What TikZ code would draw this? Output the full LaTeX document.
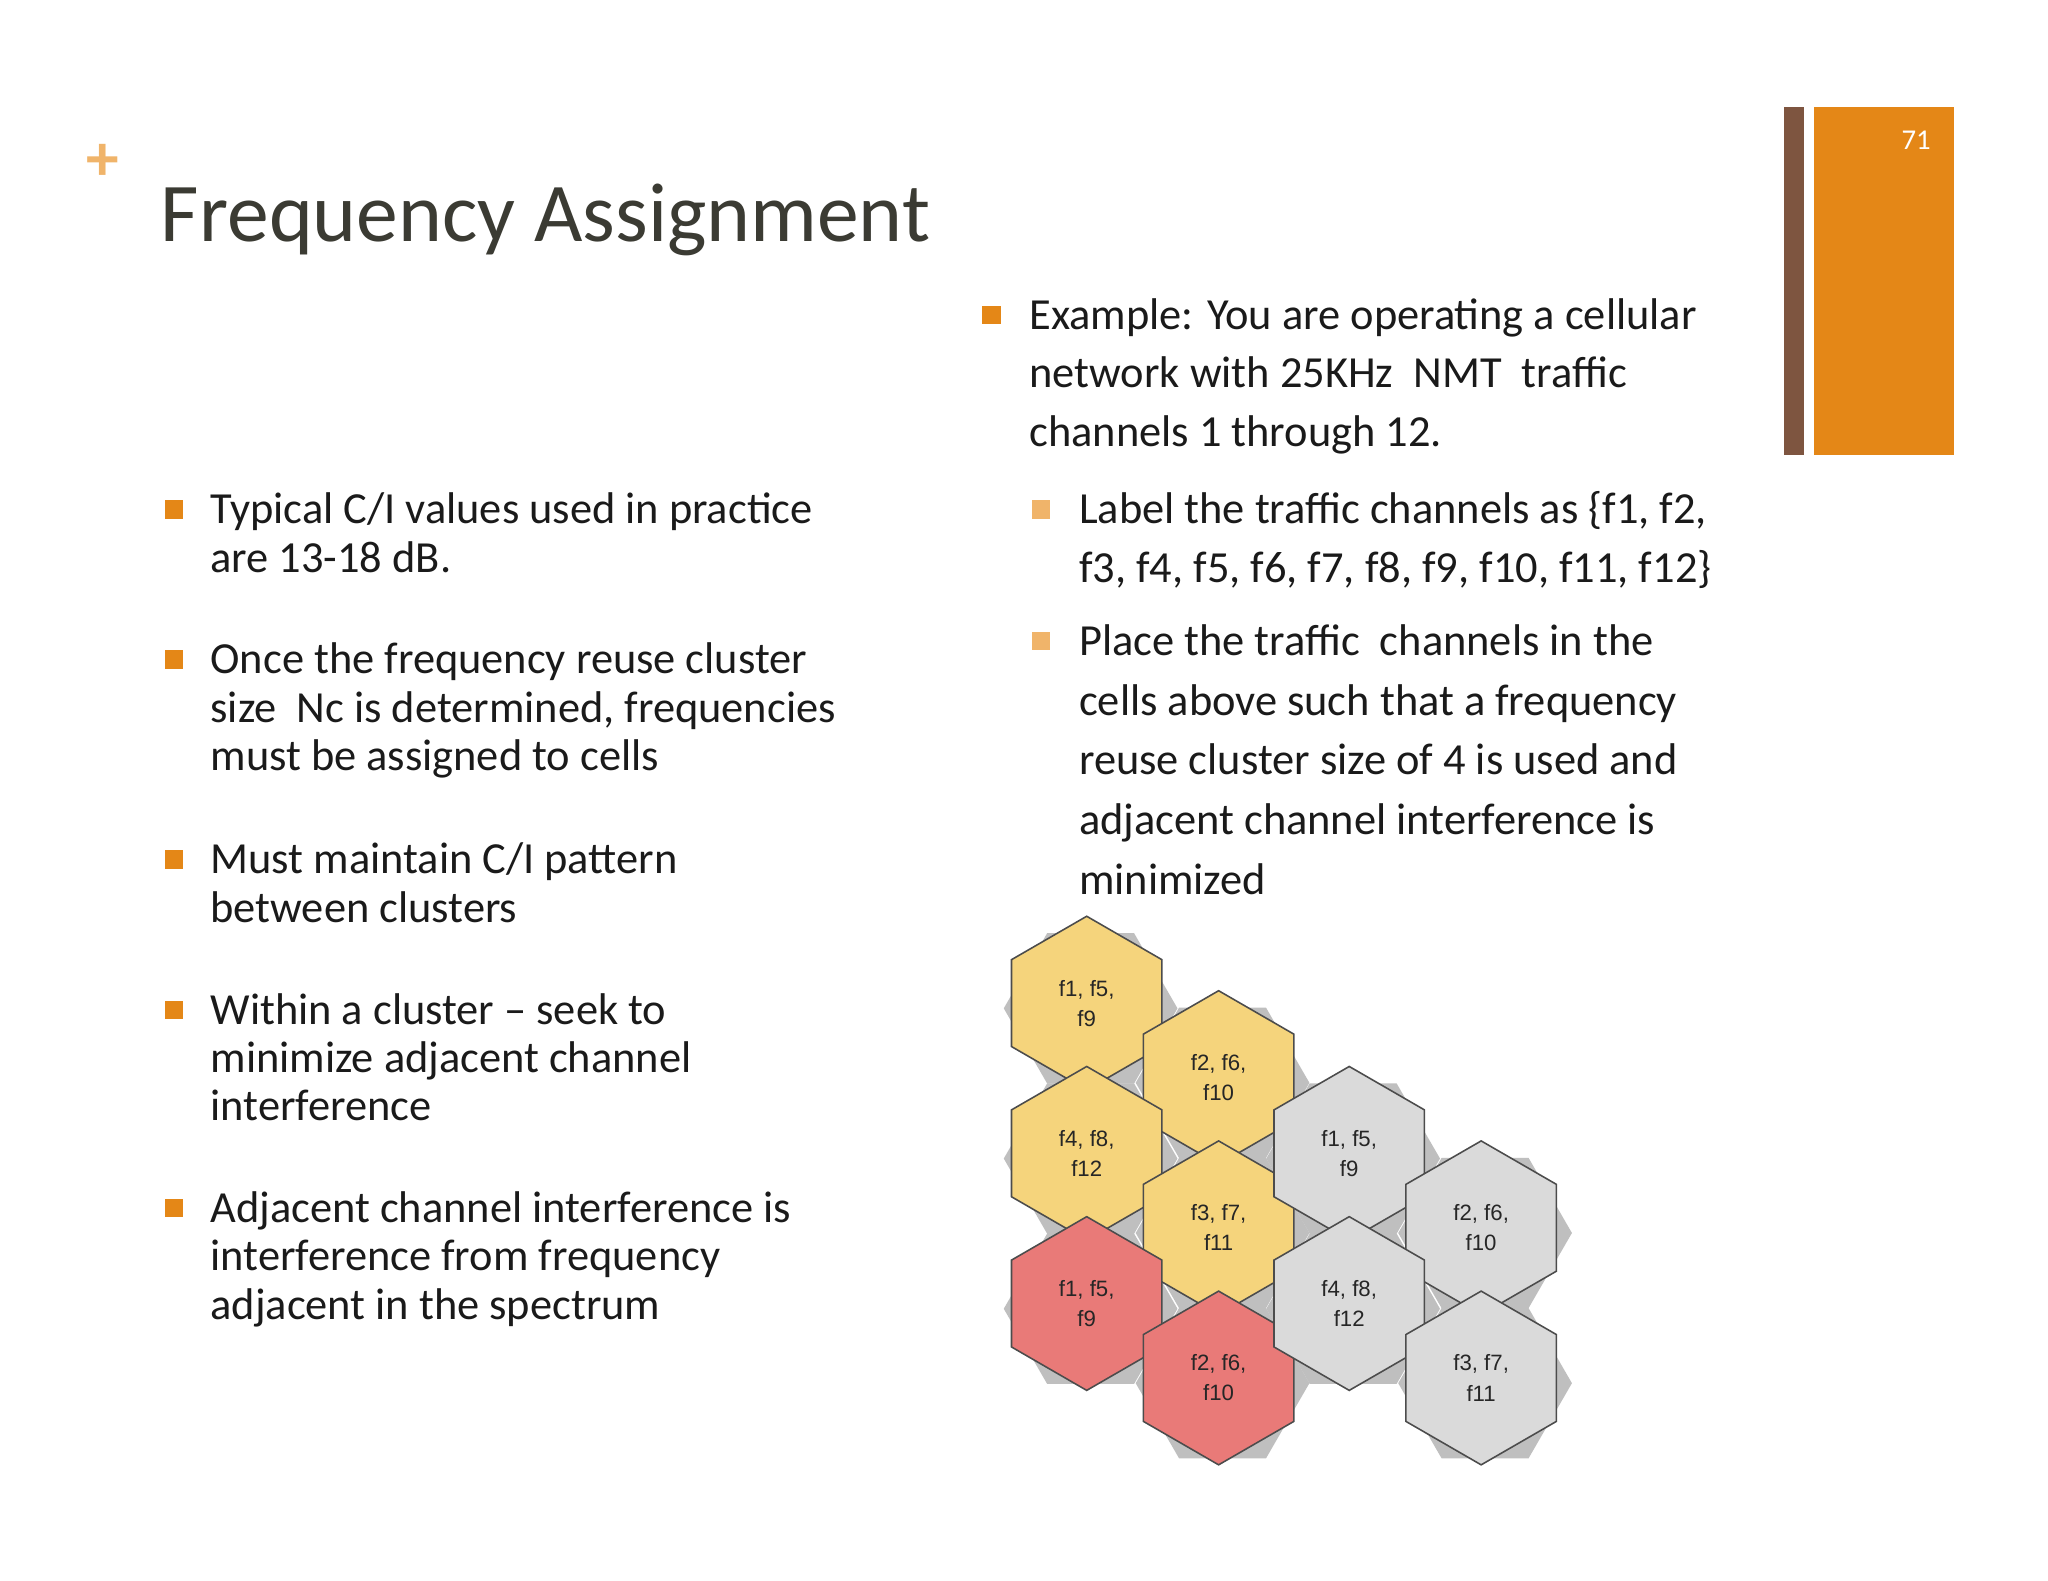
\documentclass[tikz,border=0pt]{standalone}
\usepackage{fontspec}
\setmainfont{Carlito}
\newfontfamily\hexfont{Liberation Sans}
\usetikzlibrary{shapes.geometric}
\definecolor{orng}{HTML}{E48717}
\definecolor{lorng}{HTML}{F0B46A}
\definecolor{brwn}{HTML}{7E5540}
\definecolor{txt}{HTML}{1A1A1A}
\definecolor{ttl}{HTML}{3B3B33}
\definecolor{hy}{HTML}{F5D47C}
\definecolor{hr}{HTML}{E97A78}
\definecolor{hg}{HTML}{DADADA}
\tikzset{
 body/.style={anchor=base west,inner sep=0pt,font=\fontsize{34}{37}\selectfont,text=txt},
 bul/.style={fill=orng,minimum size=14pt,inner sep=0pt},
 sbul/.style={fill=lorng,minimum size=14pt,inner sep=0pt},
 hexc/.style={regular polygon,regular polygon sides=6,shape border rotate=30,minimum size=133pt,inner sep=0pt,draw=black!70,line width=1.2pt,align=center,font=\hexfont\fontsize{17}{23}\selectfont,text=black!85}
}
\begin{document}
\begin{tikzpicture}[x=1pt,y=-1pt]
\useasboundingbox (0,0) rectangle (1568,1210);
\fill[white] (0,0) rectangle (1568,1210);
\fill[brwn] (1366,82) rectangle (1381,348);
\fill[orng] (1389,82) rectangle (1496,348);
\node[text=white,font=\fontsize{22}{22}\selectfont] (pg) at (1467,107) {71};
\node[text=lorng,font=\bfseries\fontsize{50}{50}\selectfont] (plus) at (79,124) {+};
\node[anchor=base west,inner sep=0pt,text=ttl,font=\fontsize{64}{64}\selectfont] (title) at (123,185) {Frequency Assignment};
% left bullets
\node[bul] (b1) at (133,390) {};
\node[body] (l1a) at (161,401) {Typical C/I values used in practice};
\node[body] (l1b) at (161,438) {are 13-18 dB.};
\node[bul] (b2) at (133,505) {};
\node[body] (l2a) at (161,516) {Once the frequency reuse cluster};
\node[body] (l2b) at (161,553) {size\ \ Nc is determined, frequencies};
\node[body] (l2c) at (161,590) {must be assigned to cells};
\node[bul] (b3) at (133,658) {};
\node[body] (l3a) at (161,669) {Must maintain C/I pattern};
\node[body] (l3b) at (161,706) {between clusters};
\node[bul] (b4) at (133,773) {};
\node[body] (l4a) at (161,784) {Within a cluster -- seek to};
\node[body] (l4b) at (161,821) {minimize adjacent channel};
\node[body] (l4c) at (161,858) {interference};
\node[bul] (b5) at (133,925) {};
\node[body] (l5a) at (161,936) {Adjacent channel interference is};
\node[body] (l5b) at (161,973) {interference from frequency};
\node[body] (l5c) at (161,1010) {adjacent in the spectrum};
% right
\node[bul] (r0) at (759,241) {};
\node[body] (r0a) at (788,252) {Example: You are operating a cellular};
\node[body] (r0b) at (788,297) {network with 25KHz\ \ NMT\ \ traffic};
\node[body] (r0c) at (788,342) {channels 1 through 12.};
\node[sbul] (s1) at (797,390) {};
\node[body] (r1a) at (826,401) {Label the traffic channels as \{f1, f2,};
\node[body] (r1b) at (826,446) {f3, f4, f5, f6, f7, f8, f9, f10, f11, f12\}};
\node[sbul] (s2) at (797,491) {};
\node[body] (r2a) at (826,502) {Place the traffic\ \ channels in the};
\node[body] (r2b) at (826,548) {cells above such that a frequency};
\node[body] (r2c) at (826,593) {reuse cluster size of 4 is used and};
\node[body] (r2d) at (826,639) {adjacent channel interference is};
\node[body] (r2e) at (826,685) {minimized};
% hexagons
\foreach \n/\x/\y/\c/\t in {h1/832/768/hy/{f1, f5,\\f9},h2/933/825/hy/{f2, f6,\\f10},h3/832/883/hy/{f4, f8,\\f12},h4/933/940/hy/{f3, f7,\\f11},h5/832/998/hr/{f1, f5,\\f9},h6/933/1055/hr/{f2, f6,\\f10},h7/1033/883/hg/{f1, f5,\\f9},h8/1134/940/hg/{f2, f6,\\f10},h9/1033/998/hg/{f4, f8,\\f12},h10/1134/1055/hg/{f3, f7,\\f11}}
 {\fill[black!25] (\x+3,\y+4) +(0:66.5)--+(60:66.5)--+(120:66.5)--+(180:66.5)--+(240:66.5)--+(300:66.5)--cycle;}
\foreach \n/\x/\y/\c/\t in {h1/832/768/hy/{f1, f5,\\f9},h2/933/825/hy/{f2, f6,\\f10},h3/832/883/hy/{f4, f8,\\f12},h4/933/940/hy/{f3, f7,\\f11},h5/832/998/hr/{f1, f5,\\f9},h6/933/1055/hr/{f2, f6,\\f10},h7/1033/883/hg/{f1, f5,\\f9},h8/1134/940/hg/{f2, f6,\\f10},h9/1033/998/hg/{f4, f8,\\f12},h10/1134/1055/hg/{f3, f7,\\f11}}
 {\node[hexc,fill=\c] (\n) at (\x,\y) {\t};}
\end{tikzpicture}
\end{document}
